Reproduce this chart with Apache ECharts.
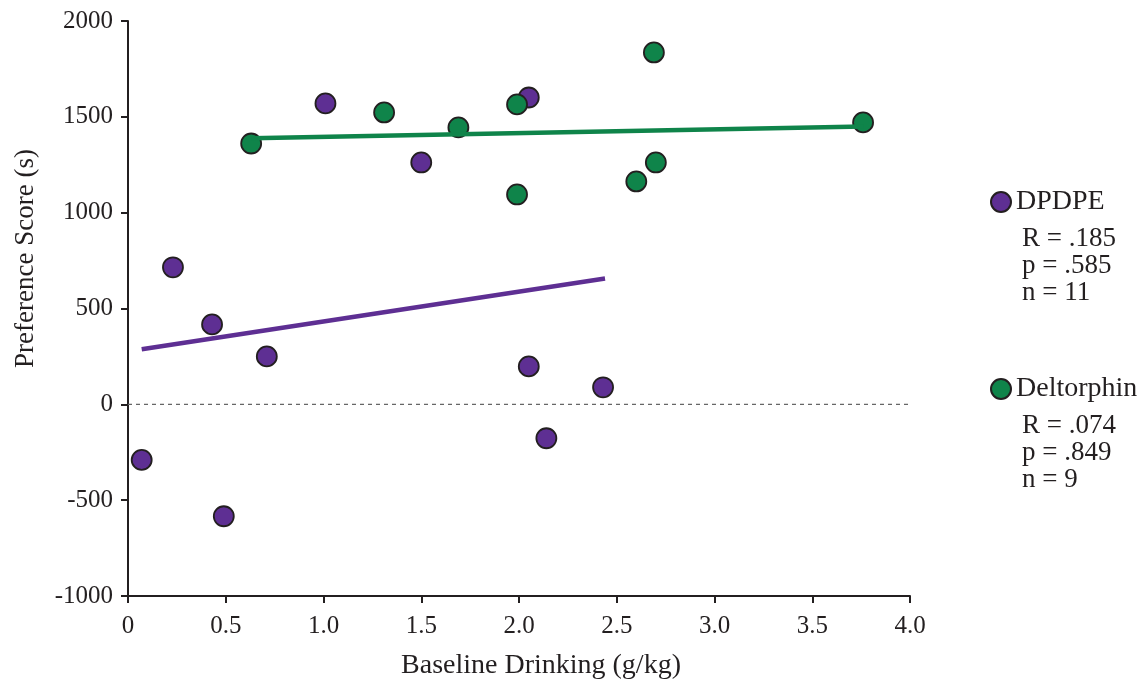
<!DOCTYPE html>
<html>
<head>
<meta charset="utf-8">
<script src="https://cdn.jsdelivr.net/npm/echarts@6/dist/echarts.min.js"></script>
<style>
  html, body { margin: 0; padding: 0; background: #fff; }
  #chart { width: 1143px; height: 681px; }
</style>
</head>
<body>
<div id="chart"></div>
<script>
// points: [baseline drinking, preference score]
var dpdpePoints = [
    [0.07, -290], [0.23, 715], [0.43, 417], [0.49, -584], [0.71, 250],
    [1.01, 1570], [1.50, 1262], [2.05, 1601], [2.05, 198], [2.14, -177], [2.43, 89]
];
var deltorphinPoints = [
    [0.63, 1361], [1.31, 1523], [1.69, 1445], [1.99, 1565], [1.99, 1095],
    [2.60, 1163], [2.69, 1836], [2.70, 1262], [3.76, 1471]
];
// fit line end points as drawn
var dpdpeFit = [[0.07, 287], [2.44, 657]];
var deltorphinFit = [[0.63, 1388], [3.76, 1450]];
var zeroLine = [[0, 0], [4.03, 0]];

var dpdpeStats = ['R = .185', 'p = .585', 'n = 11'];
var deltorphinStats = ['R = .074', 'p = .849', 'n = 9'];

var xTickLabels = ['0', '0.5', '1.0', '1.5', '2.0', '2.5', '3.0', '3.5', '4.0'];

var purple = '#5e2f93';
var green = '#0f844a';
var ink = '#231f20';
var font = '"Liberation Serif", "DejaVu Serif", serif';

var chart = echarts.init(document.getElementById('chart'));

var option = {
    animation: false,
    backgroundColor: '#fff',
    grid: { left: 128, right: 233, top: 21, bottom: 85, containLabel: false, outerBoundsMode: 'none' },
    legend: [{
        data: ['DPDPE'],
        left: 985, top: 183,
        icon: 'circle', itemWidth: 20, itemHeight: 20,
        textStyle: { fontFamily: font, fontSize: 28, color: ink }
    }, {
        data: ['Deltorphin'],
        left: 985, top: 370,
        icon: 'circle', itemWidth: 20, itemHeight: 20,
        textStyle: { fontFamily: font, fontSize: 28, color: ink }
    }],
    graphic: [{
        type: 'text', left: 1022, top: 225,
        style: { text: dpdpeStats.join('\n'), font: '27px ' + font, fill: ink, lineHeight: 27 }
    }, {
        type: 'text', left: 1022, top: 412,
        style: { text: deltorphinStats.join('\n'), font: '27px ' + font, fill: ink, lineHeight: 27 }
    }],
    xAxis: {
        type: 'value', min: 0, max: 4, interval: 0.5,
        name: 'Baseline Drinking (g/kg)',
        nameLocation: 'middle', nameGap: 56,
        nameTextStyle: { fontFamily: font, fontSize: 28, color: ink, padding: [0, 0, 0, 44] },
        axisLine: { onZero: false, lineStyle: { color: ink, width: 2 } },
        axisTick: { length: 7, lineStyle: { color: ink, width: 2 } },
        axisLabel: {
            fontFamily: font, fontSize: 25, color: ink, margin: 18,
            formatter: function (v) { return xTickLabels[Math.round(v / 0.5)]; }
        },
        splitLine: { show: false }
    },
    yAxis: {
        type: 'value', min: -1000, max: 2000, interval: 500,
        name: 'Preference Score (s)',
        nameLocation: 'middle', nameGap: 89,
        nameTextStyle: { fontFamily: font, fontSize: 27, color: ink, padding: [0, 0, 0, 100] },
        axisLine: { show: true, onZero: false, lineStyle: { color: ink, width: 2 } },
        axisTick: { show: true, length: 7, lineStyle: { color: ink, width: 2 } },
        axisLabel: {
            fontFamily: font, fontSize: 25, color: ink, margin: 15,
            formatter: function (v) { return String(v); }
        },
        splitLine: { show: false }
    },
    series: [{
        type: 'line', data: zeroLine, symbol: 'none', silent: true,
        lineStyle: { color: '#666', width: 1.2, type: [4, 4] }
    }, {
        type: 'line', data: dpdpeFit, symbol: 'none', silent: true,
        lineStyle: { color: purple, width: 4.5 }
    }, {
        type: 'line', data: deltorphinFit, symbol: 'none', silent: true,
        lineStyle: { color: green, width: 4.5 }
    }, {
        name: 'DPDPE', type: 'scatter', data: dpdpePoints, symbolSize: 20,
        itemStyle: { color: purple, borderColor: ink, borderWidth: 1.8, opacity: 1 }
    }, {
        name: 'Deltorphin', type: 'scatter', data: deltorphinPoints, symbolSize: 20,
        itemStyle: { color: green, borderColor: ink, borderWidth: 1.8, opacity: 1 }
    }]
};

chart.setOption(option);
</script>
</body>
</html>
